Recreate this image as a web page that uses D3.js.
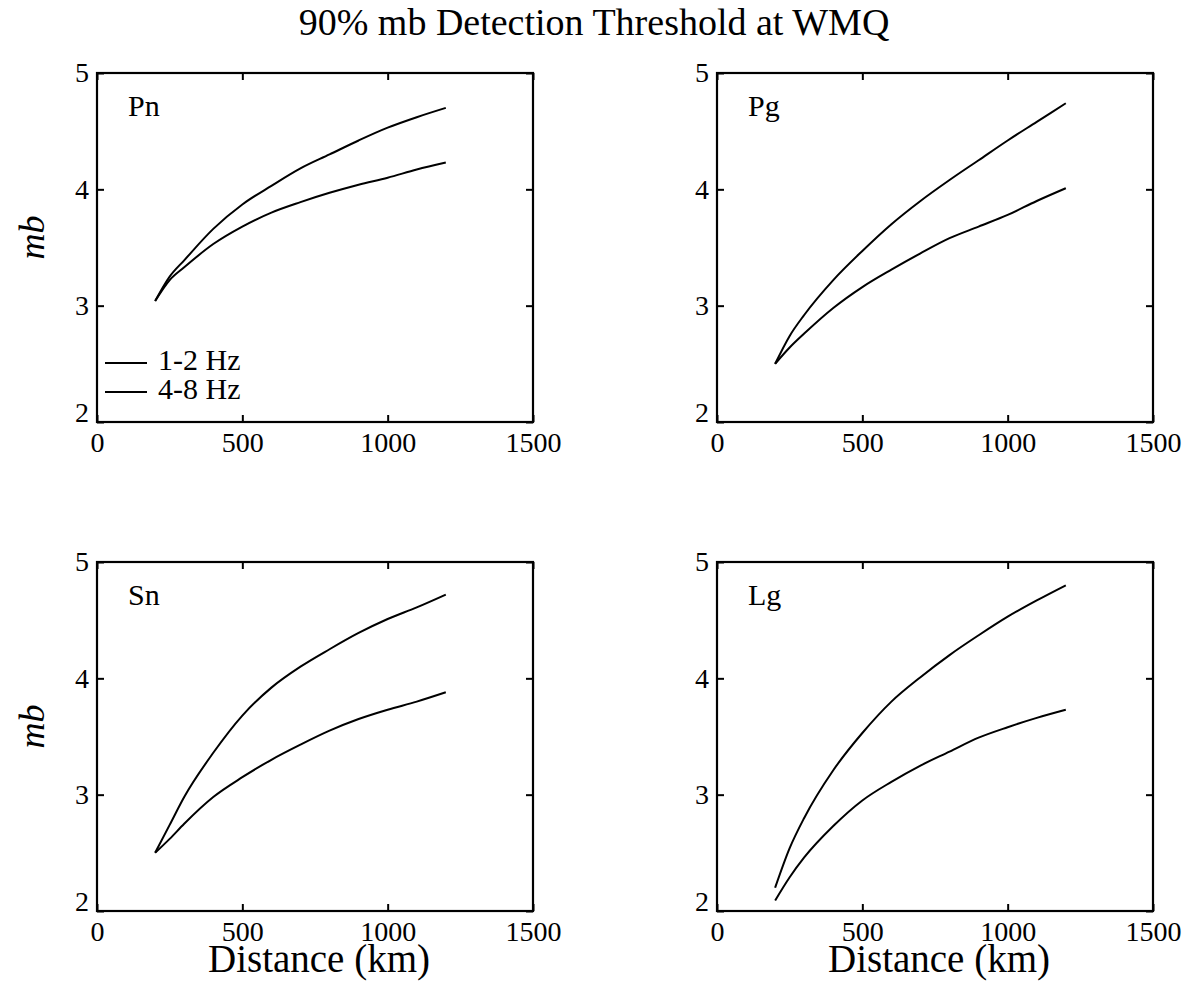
<!DOCTYPE html>
<html>
<head>
<meta charset="utf-8">
<script src="https://cdn.jsdelivr.net/npm/d3@7"></script>
<style>
  body { margin: 0; background: #fff; }
  svg text { font-family: "Liberation Serif", "Times New Roman", serif; fill: #000; }
</style>
</head>
<body>
<svg id="chart"></svg>
<script>

var distance = [200, 250, 300, 400, 500, 600, 700, 800, 900, 1000, 1100, 1200];

// 90% mb thresholds, 1-2 Hz and 4-8 Hz, per phase
var pn_low  = [3.04, 3.25, 3.39, 3.66, 3.87, 4.03, 4.18, 4.30, 4.42, 4.53, 4.62, 4.70];
var pn_high = [3.04, 3.22, 3.33, 3.53, 3.68, 3.80, 3.89, 3.97, 4.04, 4.10, 4.17, 4.23];

var pg_low  = [2.50, 2.74, 2.92, 3.22, 3.47, 3.70, 3.90, 4.08, 4.25, 4.42, 4.58, 4.74];
var pg_high = [2.50, 2.64, 2.76, 2.98, 3.16, 3.31, 3.45, 3.58, 3.68, 3.78, 3.90, 4.01];

var sn_low  = [2.50, 2.74, 2.98, 3.36, 3.68, 3.92, 4.10, 4.25, 4.39, 4.51, 4.61, 4.72];
var sn_high = [2.50, 2.62, 2.75, 2.98, 3.15, 3.30, 3.43, 3.55, 3.65, 3.73, 3.80, 3.88];

var lg_low  = [2.20, 2.54, 2.80, 3.21, 3.53, 3.80, 4.01, 4.20, 4.37, 4.53, 4.67, 4.80];
var lg_high = [2.09, 2.29, 2.46, 2.73, 2.95, 3.11, 3.25, 3.37, 3.49, 3.58, 3.66, 3.73];

var phases = ["Pn", "Pg", "Sn", "Lg"];
var series_low  = [pn_low, pg_low, sn_low, lg_low];
var series_high = [pn_high, pg_high, sn_high, lg_high];
var bands = ["1-2 Hz", "4-8 Hz"];

var x_ticks = [0, 500, 1000, 1500];
var y_ticks = [2, 3, 4, 5];

var title = "90% mb Detection Threshold at WMQ";

var W = 1190, H = 982;
var pw = 436, ph = 349;
var cols = [97, 717], rows = [73, 562];

var svg = d3.select("#chart")
            .attr("width", W)
            .attr("height", H);

svg.append("text")
   .attr("x", 594)
   .attr("y", 35)
   .attr("text-anchor", "middle")
   .style("font-size", "38px")
   .text(title);

function drawPanel(i) {

  var left = cols[i % 2], top = rows[Math.floor(i / 2)];

  var g = svg.append("g")
             .attr("transform", "translate(" + left + "," + top + ")");

  var x = d3.scaleLinear().domain([0, 1500]).range([0, pw]);
  var y = d3.scaleLinear().domain([2, 5]).range([ph, 0]);
  var fmt = d3.format("d");

  // inward ticks on all four sides
  var tk = 7;
  g.append("g").attr("transform", "translate(0," + ph + ")")
   .call(d3.axisBottom(x).tickValues(x_ticks).tickFormat(fmt).tickSizeInner(-tk).tickSizeOuter(0).tickPadding(10));
  g.append("g")
   .call(d3.axisTop(x).tickValues(x_ticks).tickSizeInner(-tk).tickSizeOuter(0).tickFormat(""));
  g.append("g")
   .call(d3.axisLeft(y).tickValues(y_ticks).tickFormat(fmt).tickSizeInner(-tk).tickSizeOuter(0).tickPadding(8));
  g.append("g").attr("transform", "translate(" + pw + ",0)")
   .call(d3.axisRight(y).tickValues(y_ticks).tickSizeInner(-tk).tickSizeOuter(0).tickFormat(""));

  g.selectAll(".domain").remove();
  g.selectAll("g").attr("font-family", null).attr("font-size", null);
  g.selectAll(".tick line").attr("stroke", "#000").attr("stroke-width", 2);
  g.selectAll(".tick text").style("font-size", "28px");

  // lowest y label sits on the axis line
  g.selectAll(".tick text")
   .filter(function(d) { return d === 2; })
   .attr("dy", "-0.02em");

  g.append("rect")
   .attr("width", pw)
   .attr("height", ph)
   .attr("fill", "none")
   .attr("stroke", "#000")
   .attr("stroke-width", 2.2);

  var line = d3.line()
               .curve(d3.curveMonotoneX)
               .x(function(d) { return x(d[0]); })
               .y(function(d) { return y(d[1]); });

  [series_low[i], series_high[i]].forEach(function(s) {
    g.append("path")
     .datum(d3.zip(distance, s))
     .attr("fill", "none")
     .attr("stroke", "#000")
     .attr("stroke-width", 2)
     .attr("d", line);
  });

  g.append("text")
   .attr("x", 31)
   .attr("y", 43)
   .style("font-size", "30px")
   .text(phases[i]);

  if (i === 0) {
    bands.forEach(function(b, k) {
      var ly = 290 + k * 29;
      g.append("line")
       .attr("x1", 8).attr("x2", 50)
       .attr("y1", ly).attr("y2", ly)
       .attr("stroke", "#000")
       .attr("stroke-width", 2);
      g.append("text")
       .attr("x", 61)
       .attr("y", ly + 7)
       .style("font-size", "30px")
       .text(b);
    });
  }

  if (i % 2 === 0) {
    svg.append("text")
       .attr("transform", "translate(44," + (top + ph / 2 - 10) + ") rotate(-90)")
       .attr("text-anchor", "middle")
       .style("font-size", "36px")
       .style("font-style", "italic")
       .text("mb");
  }

  if (i >= 2) {
    svg.append("text")
       .attr("x", left + 222)
       .attr("y", top + ph + 61)
       .attr("text-anchor", "middle")
       .style("font-size", "39px")
       .text("Distance (km)");
  }
}

for (var i = 0; i < phases.length; i++) {
  drawPanel(i);
}

</script>
</body>
</html>
